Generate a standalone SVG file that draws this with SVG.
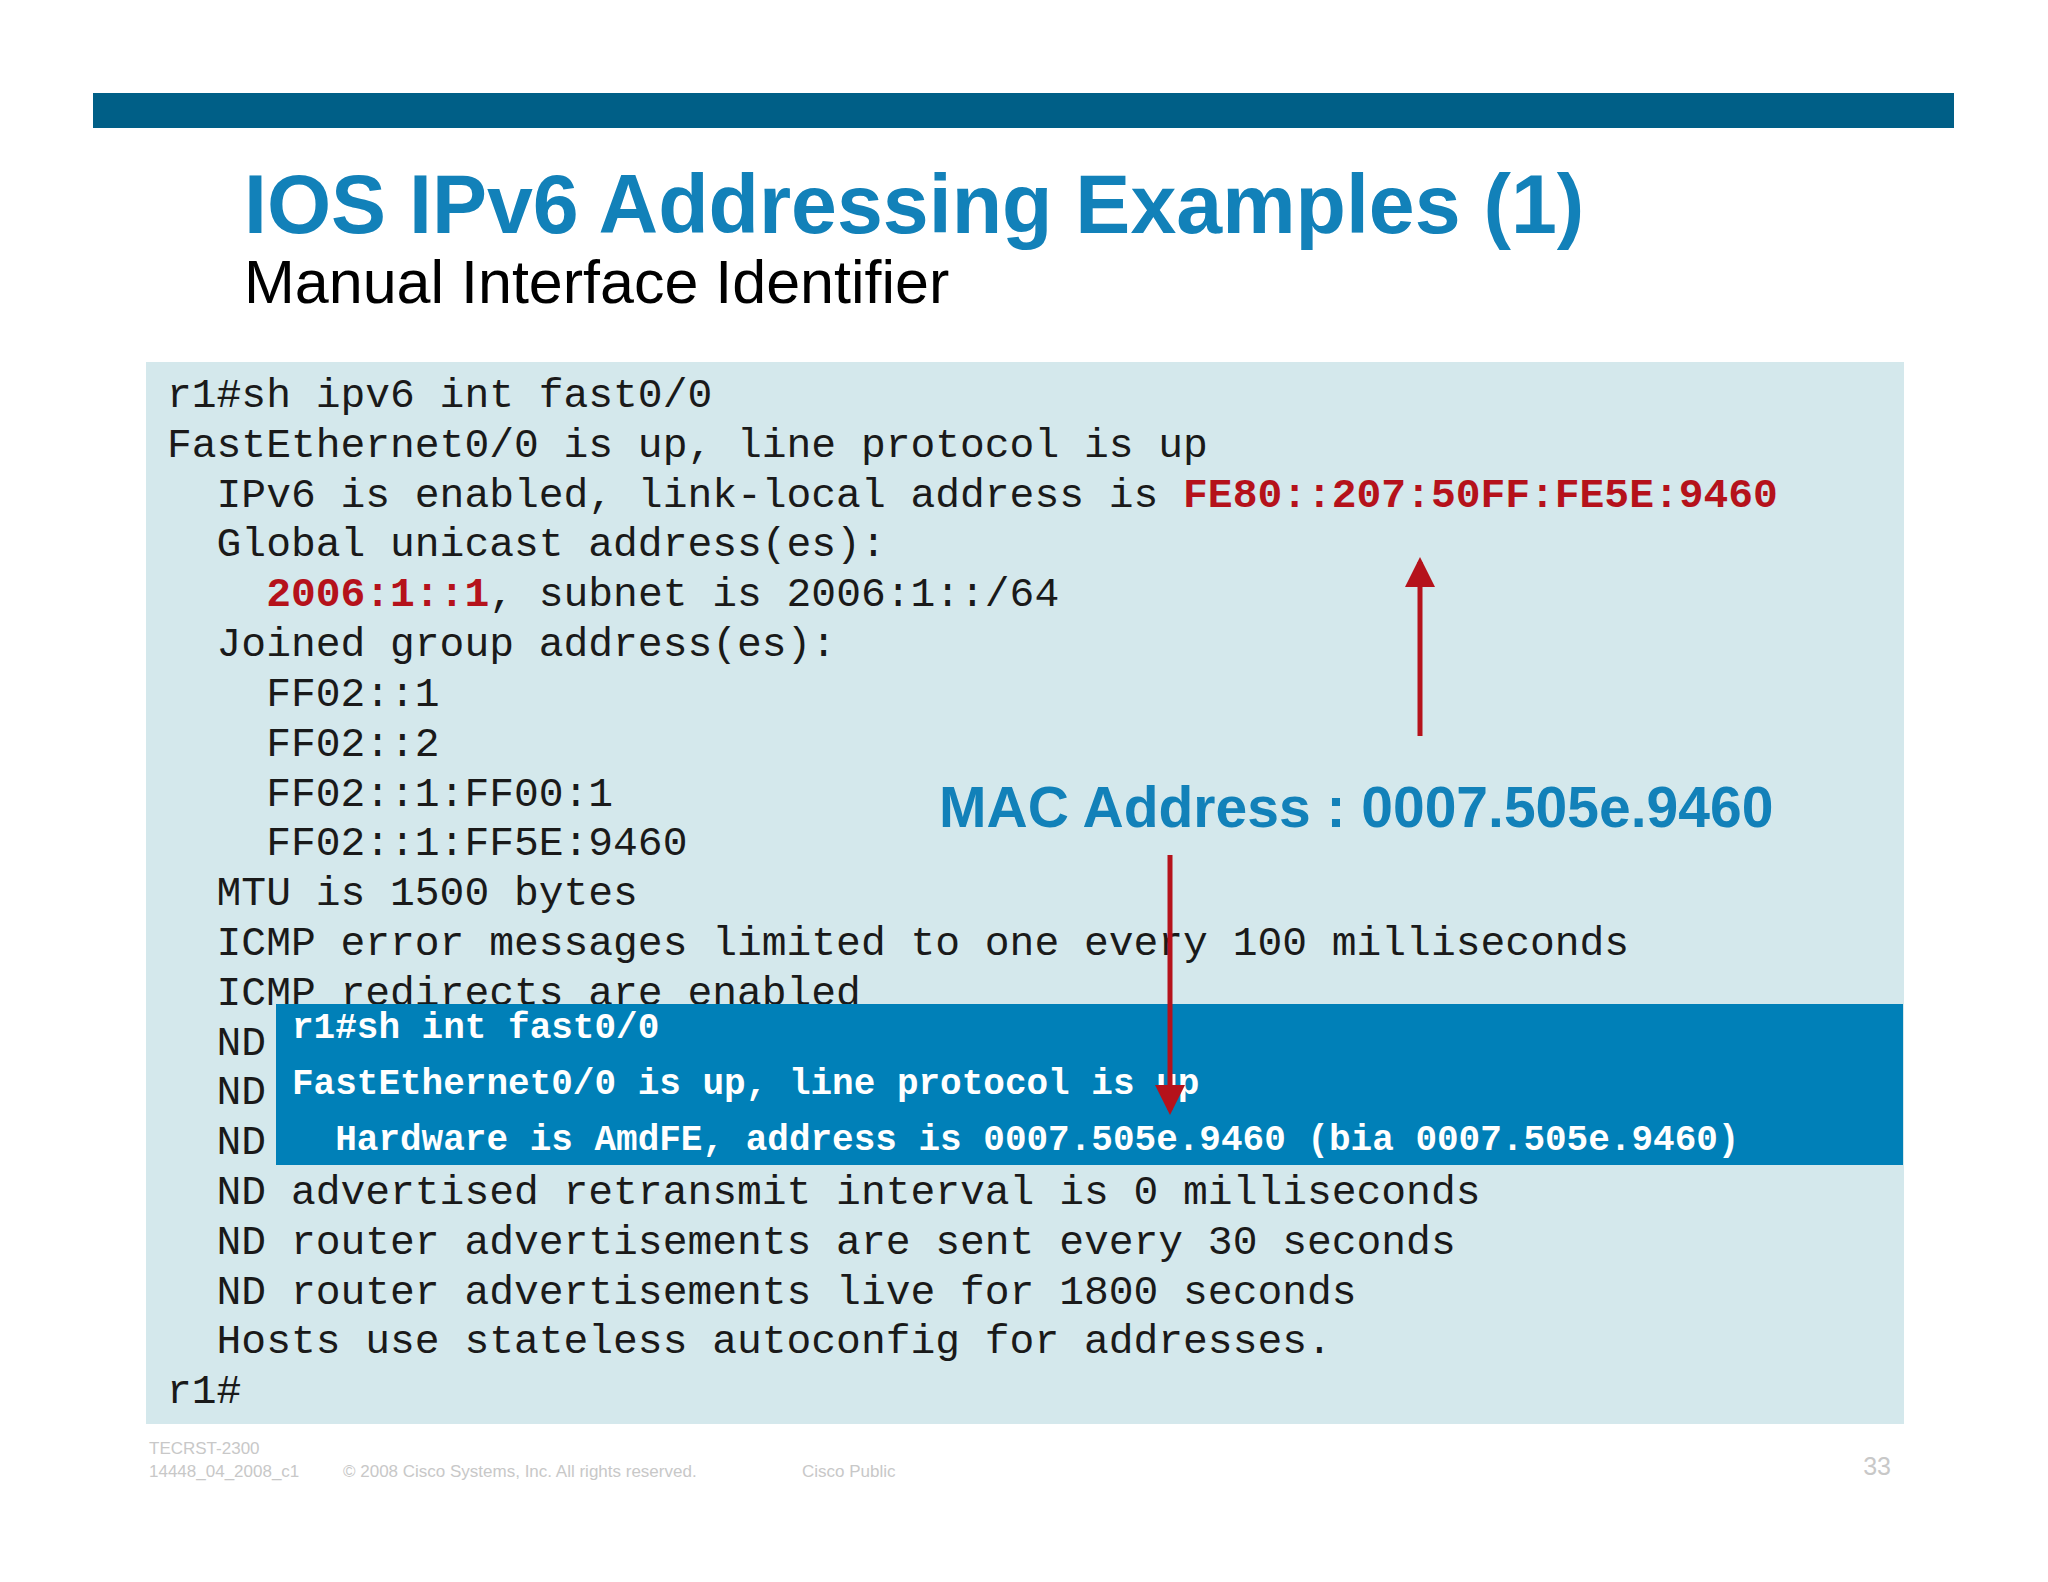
<svg xmlns="http://www.w3.org/2000/svg" width="2048" height="1582" viewBox="0 0 2048 1582" xml:space="preserve">
<style>
.c{font-family:"Liberation Mono",monospace;font-size:41.3px;fill:#1a1a1a;white-space:pre}
.r{fill:#b5121b;font-weight:bold}
.w{font-family:"Liberation Mono",monospace;font-size:36px;fill:#fff;font-weight:bold;white-space:pre}
.f{font-family:"Liberation Sans",sans-serif;font-size:17px;fill:#c8c8c8}
</style>
<defs>
<marker id="ah" markerWidth="6" markerHeight="6" refX="5" refY="3" orient="auto" markerUnits="strokeWidth"><path d="M0,0 L6,3 L0,6 z" fill="#b5121b"/></marker>
</defs>
<rect width="2048" height="1582" fill="#fff"/>
<rect x="93" y="93" width="1861" height="35" fill="#005f87"/>
<text x="244" y="233" font-family="Liberation Sans,sans-serif" font-weight="bold" font-size="82.5" fill="#1281b9">IOS IPv6 Addressing Examples (1)</text>
<text x="244" y="303" font-family="Liberation Sans,sans-serif" font-size="61" fill="#000">Manual Interface Identifier</text>
<g id="cli">
<rect x="146" y="362" width="1758" height="1062" fill="#d4e8ec"/>
<text class="c" x="167" y="407">r1#sh ipv6 int fast0/0</text>
<text class="c" x="167" y="457">FastEthernet0/0 is up, line protocol is up</text>
<text class="c" x="167" y="507">  IPv6 is enabled, link-local address is <tspan class="r">FE80::207:50FF:FE5E:9460</tspan></text>
<text class="c" x="167" y="556">  Global unicast address(es):</text>
<text class="c" x="167" y="606">    <tspan class="r">2006:1::1</tspan>, subnet is 2006:1::/64</text>
<text class="c" x="167" y="656">  Joined group address(es):</text>
<text class="c" x="167" y="706">    FF02::1</text>
<text class="c" x="167" y="756">    FF02::2</text>
<text class="c" x="167" y="806">    FF02::1:FF00:1</text>
<text class="c" x="167" y="855">    FF02::1:FF5E:9460</text>
<text class="c" x="167" y="905">  MTU is 1500 bytes</text>
<text class="c" x="167" y="955">  ICMP error messages limited to one every 100 milliseconds</text>
<text class="c" x="167" y="1005">  ICMP redirects are enabled</text>
<text class="c" x="167" y="1055">  ND</text>
<text class="c" x="167" y="1104">  ND</text>
<text class="c" x="167" y="1154">  ND</text>
<text class="c" x="167" y="1204">  ND advertised retransmit interval is 0 milliseconds</text>
<text class="c" x="167" y="1254">  ND router advertisements are sent every 30 seconds</text>
<text class="c" x="167" y="1304">  ND router advertisements live for 1800 seconds</text>
<text class="c" x="167" y="1353">  Hosts use stateless autoconfig for addresses.</text>
<text class="c" x="167" y="1403">r1#</text>
</g>
<g id="intbox">
<rect x="276" y="1004" width="1627" height="161" fill="#0080b8"/>
<text class="w" x="292" y="1038">r1#sh int fast0/0</text>
<text class="w" x="292" y="1094">FastEthernet0/0 is up, line protocol is up</text>
<text class="w" x="292" y="1150">  Hardware is AmdFE, address is 0007.505e.9460 (bia 0007.505e.9460)</text>
</g>
<g id="mac">
<text x="939" y="827" font-family="Liberation Sans,sans-serif" font-weight="bold" font-size="57" fill="#1281b9">MAC Address : 0007.505e.9460</text>
</g>
<g id="connectors" stroke="#b5121b" stroke-width="5" fill="none">
<line x1="1420" y1="736" x2="1420" y2="562" marker-end="url(#ah)"/>
<line x1="1170" y1="855" x2="1170" y2="1110" marker-end="url(#ah)"/>
</g>
<g id="footer">
<text class="f" x="149" y="1454">TECRST-2300</text>
<text class="f" x="149" y="1477">14448_04_2008_c1</text>
<text class="f" x="343" y="1477">© 2008 Cisco Systems, Inc. All rights reserved.</text>
<text class="f" x="802" y="1477">Cisco Public</text>
<text x="1891" y="1475" text-anchor="end" font-family="Liberation Sans,sans-serif" font-size="25" fill="#c8c8c8">33</text>
</g>
</svg>
